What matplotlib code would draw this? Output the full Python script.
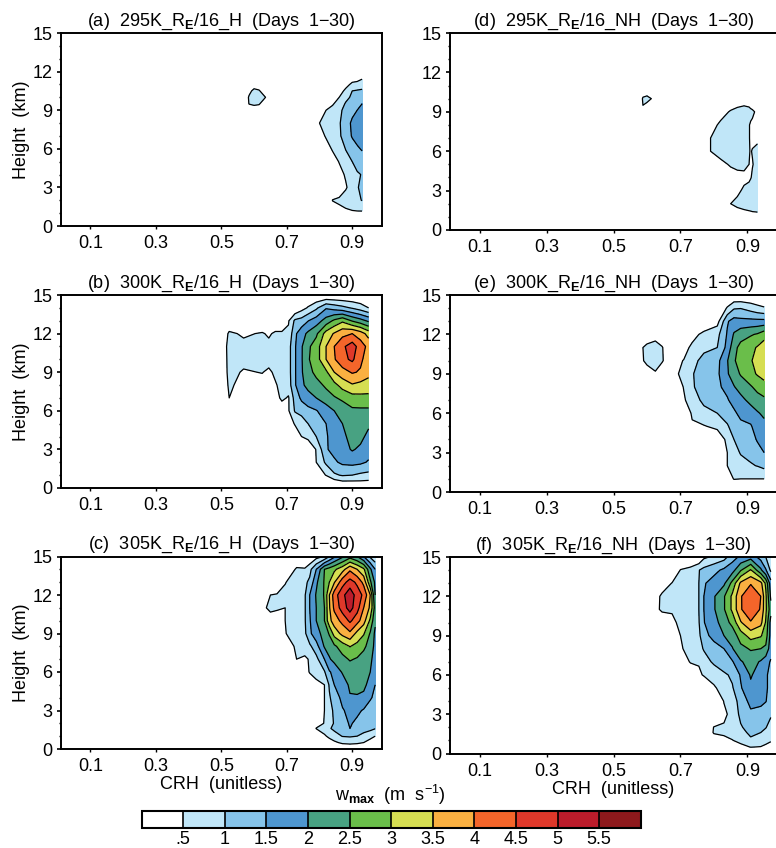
import numpy as np
import matplotlib
matplotlib.use("Agg")
import matplotlib.pyplot as plt
from matplotlib.colors import ListedColormap, BoundaryNorm
from matplotlib.cm import ScalarMappable
from matplotlib.ticker import MultipleLocator

plt.rcParams['font.family'] = ['Liberation Sans', 'DejaVu Sans']
plt.rcParams['mathtext.fontset'] = 'custom'
plt.rcParams['mathtext.rm'] = 'Liberation Sans'
plt.rcParams['mathtext.bf'] = 'Liberation Sans:bold'
plt.rcParams['mathtext.default'] = 'regular'

levels = [0, .5, 1, 1.5, 2, 2.5, 3, 3.5, 4, 4.5, 5, 5.5, 6]
level_labels = ['.5', '1', '1.5', '2', '2.5', '3', '3.5', '4', '4.5', '5', '5.5']
colors = ['#FFFFFF', '#C0E6F8', '#86C4EA', '#4E96CF', '#48A282', '#6ABE4A',
          '#D6DE52', '#FAB041', '#F4652A', '#DF382A', '#BC1C2B', '#8E191C']

# Panel a: 295K H
crh_a = [.56, .585, .60, .615, .635, .66, .78, .80, .82, .84, .86, .88, .90, .915, .93]
hgt_a = [0, 1, 2, 3, 4, 5, 6, 7, 8, 9, 9.5, 10, 10.5, 11, 12, 15]
w_a = [
 [0,0,0,0,0,0,0,0,0,0,0,0,0,0,0],
 [0,0,0,0,0,0,0,0,0,.15,.3,.38,.42,.42,.4],
 [0,0,0,0,0,0,0,0,0,.52,.6,.7,.8,.9,1.02],
 [0,0,0,0,0,0,0,0,0,0,.15,.45,.7,.95,1.15],
 [0,0,0,0,0,0,0,0,0,0,.35,.55,.75,.95,1.02],
 [0,0,0,0,0,0,0,0,.1,.3,.52,.8,1.0,1.15,1.25],
 [0,0,0,0,0,0,0,0,.3,.55,.7,1.02,1.25,1.42,1.55],
 [0,0,0,0,0,0,0,.3,.55,.75,.93,1.2,1.55,1.7,1.85],
 [0,0,0,0,0,0,0,.5,.65,.8,.95,1.25,1.6,1.8,1.9],
 [0,.2,.2,.2,0,0,0,.2,.5,.65,.85,1.2,1.35,1.5,1.65],
 [0,.52,.6,.55,.2,0,0,.1,.3,.45,.7,1.05,1.25,1.4,1.5],
 [0,.55,.75,.7,.5,0,0,0,0,.2,.5,.85,1.1,1.2,1.35],
 [0,.4,.6,.55,.2,0,0,0,0,.1,.3,.6,1.0,1.05,1.05],
 [0,0,.3,.2,0,0,0,0,0,0,.1,.35,.6,.65,.85],
 [0,0,0,0,0,0,0,0,0,0,0,0,0,0,0],
 [0,0,0,0,0,0,0,0,0,0,0,0,0,0,0],
]

# Panel b: 300K H
crh_b = [.50, .524, .568, .625, .645, .665, .685, .705, .725, .745, .765, .79, .82, .845, .87, .90, .925, .95]
hgt_b = [0, .5, 1, 2, 3, 4, 5, 6, 7, 8, 9, 10, 11, 12, 13, 14, 15]
w_b = [
 [0,0,0,0,0,0,0,0,0,0,0,0,0,0,0,0,0,0],
 [0,0,0,0,0,0,0,0,0,0,0,0,.1,.3,.45,.45,.45,.42],
 [0,0,0,0,0,0,0,0,0,0,0,.2,.52,.92,1.05,1.0,.9,.85],
 [0,0,0,0,0,0,0,0,0,0,0,.5,1.1,1.42,1.6,1.65,1.6,1.45],
 [0,0,0,0,0,0,0,0,0,0,.2,.52,1.45,1.65,1.8,2.05,1.9,1.7],
 [0,0,0,0,0,0,0,0,.15,.5,.6,1.0,1.45,1.7,1.9,2.15,2.15,1.85],
 [0,0,0,0,0,0,0,.2,.55,.7,1.0,1.2,1.5,1.7,2.0,2.2,2.2,2.1],
 [0,0,0,0,0,0,.2,.45,1.05,1.2,1.35,1.47,1.75,2.0,2.2,2.4,2.4,2.4],
 [0,.5,0,0,.1,.3,.6,.45,1.2,1.6,1.8,2.0,2.25,2.45,2.6,2.8,2.85,2.85],
 [0,.6,.3,.3,.3,.45,.65,.75,1.45,1.9,2.15,2.3,2.6,2.85,3.2,3.45,3.35,3.3],
 [.1,.65,.45,.52,.4,.6,.7,.8,1.45,1.95,2.3,2.65,2.9,3.5,3.8,4.05,3.95,3.65],
 [.15,.65,.65,.7,.7,.7,.7,.8,1.45,1.95,2.45,2.75,3.5,3.95,4.35,4.6,4.1,3.75],
 [.2,.65,.65,.7,.65,.7,.7,.8,1.45,1.95,2.4,2.75,3.5,4.0,4.4,4.75,4.25,3.85],
 [0,.6,.42,.55,.42,.6,.6,.6,1.4,1.8,2.1,2.4,3.2,3.55,3.85,4.0,3.75,3.3],
 [0,0,0,0,0,0,0,.45,1.1,1.2,1.48,1.75,2.2,2.6,2.9,2.45,2.2,1.9],
 [0,0,0,0,0,0,0,0,0,.3,.55,.9,1.45,1.3,1.15,.95,.75,.5],
 [0,0,0,0,0,0,0,0,0,0,0,0,0,0,0,0,0,0],
]

# Panel c: 305K H
crh_c = [.635, .65, .67, .695, .73, .755, .77, .79, .815, .83, .845, .87, .893, .915, .935, .955, .97]
hgt_c = [0, .5, 1, 1.6, 2, 3, 4, 5, 6, 7, 8, 9, 10, 11, 12, 13, 14, 15]
w_c = [
 [0,0,0,0,0,0,0,0,0,0,0,0,0,0,0,0,0],
 [0,0,0,0,0,0,0,0,0,.2,.4,.6,.65,.6,.5,.35,.3],
 [0,0,0,0,0,0,0,0,.4,.65,.8,1.02,1.05,1.0,.8,.62,.5],
 [0,0,0,0,0,0,0,.52,.8,.95,1.1,1.3,1.5,1.35,1.25,1.15,1.02],
 [0,0,0,0,0,0,0,.3,.52,.75,1.05,1.3,1.55,1.4,1.3,1.2,1.15],
 [0,0,0,0,0,0,0,0,.5,.8,1.1,1.45,1.65,1.6,1.45,1.3,1.2],
 [0,0,0,0,0,0,0,0,.5,.95,1.2,1.65,1.95,1.95,1.9,1.55,1.4],
 [0,0,0,0,0,0,0,.35,.5,1.05,1.5,1.7,2.1,2.15,2.1,1.85,1.5],
 [0,0,0,0,0,.2,.55,.7,.95,1.45,1.65,2.05,2.2,2.2,2.15,2.0,1.6],
 [0,0,0,0,.5,.4,.55,.85,1.5,1.95,2.15,2.35,2.55,2.45,2.3,2.1,1.8],
 [0,0,0,.1,.62,.78,.9,1.3,2.05,2.2,2.4,2.75,3.02,2.85,2.6,2.3,1.85],
 [0,0,0,.48,.7,.9,1.4,1.8,2.2,2.55,3.2,3.65,3.9,3.35,3.05,2.45,1.9],
 [0,.3,.3,.5,.7,.95,1.45,2.0,2.5,3.35,3.75,4.15,4.6,4.2,3.7,2.9,2.1],
 [.48,.6,.55,.5,.7,.95,1.5,2.0,2.5,3.45,4.1,4.75,5.2,4.7,4.0,3.4,2.3],
 [.35,.5,.55,.6,.65,.95,1.5,2.05,2.55,3.5,4.25,4.85,5.35,4.75,4.4,3.5,2.0],
 [0,0,0,.48,.7,.9,1.1,1.9,2.55,3.0,3.45,4.3,4.7,4.4,3.85,2.6,1.9],
 [0,0,0,0,.58,.55,.85,1.5,2.5,2.7,2.9,3.3,3.9,3.5,3.1,2.1,1.5],
 [0,0,0,0,0,0,0,.3,.55,1.0,1.4,1.9,2.3,2.0,1.5,.9,.6],
]

# Panel d: 295K NH
crh_d = [.57, .588, .60, .613, .63, .77, .79, .82, .85, .87, .89, .905, .91, .915, .93]
hgt_d = [0, 1, 2, 3, 4, 5, 6, 7, 8, 9, 10, 11, 15]
w_d = [
 [0,0,0,0,0,0,0,0,0,0,0,0,0,0,0],
 [0,0,0,0,0,0,0,0,.1,.2,.25,.28,.28,.3,.3],
 [0,0,0,0,0,0,0,0,.5,.62,.7,.75,.78,.8,.85],
 [0,0,0,0,0,0,0,0,.2,.4,.58,.65,.68,.7,.78],
 [0,0,0,0,0,0,0,0,.3,.35,.38,.42,.48,.55,.7],
 [0,0,0,0,0,0,.1,.38,.55,.62,.62,.5,.45,.48,.62],
 [0,0,0,0,0,.1,.5,.68,.75,.78,.7,.52,.48,.52,.6],
 [0,0,0,0,0,.2,.5,.68,.78,.8,.7,.52,.45,.42,.42],
 [0,0,0,0,0,0,.3,.6,.72,.78,.68,.52,.45,.42,.35],
 [0,.45,.3,.1,0,0,.1,.3,.55,.65,.75,.7,.62,.58,.4],
 [0,.55,.58,.5,0,0,0,0,.1,.2,.2,.15,.12,.1,.05],
 [0,.1,.2,.1,0,0,0,0,0,0,0,0,0,0,0],
 [0,0,0,0,0,0,0,0,0,0,0,0,0,0,0],
]

# Panel e: 300K NH
crh_e = [.58, .60, .625, .645, .67, .69, .71, .735, .77, .81, .84, .86, .88, .91, .93, .95]
hgt_e = [0, 1, 2, 3, 4, 5, 6, 7, 8, 9, 10, 11, 12, 13, 14, 15]
w_e = [
 [0,0,0,0,0,0,0,0,0,0,0,0,0,0,0,0],
 [0,0,0,0,0,0,0,0,0,0,.3,.52,.5,.5,.5,.5],
 [0,0,0,0,0,0,0,0,0,0,.5,.65,.75,.95,1.02,1.15],
 [0,0,0,0,0,0,0,0,0,0,.5,.75,1.05,1.15,1.3,1.5],
 [0,0,0,0,0,0,0,0,0,.2,.6,1.0,1.2,1.3,1.55,1.7],
 [0,0,0,0,0,0,.1,.45,.47,.6,.95,1.2,1.35,1.45,1.75,1.85],
 [0,0,0,0,0,0,.2,.55,.8,1.0,1.2,1.4,1.65,1.75,1.95,2.1],
 [0,0,0,0,0,0,.45,.7,1.15,1.3,1.45,1.7,1.85,2.15,2.3,2.4],
 [0,0,0,0,0,.3,.52,.95,1.2,1.4,1.65,1.97,2.2,2.45,2.65,2.8],
 [0,.3,.45,.2,0,.47,.62,.97,1.2,1.4,1.95,2.25,2.55,2.85,3.05,3.2],
 [.4,.6,.7,.55,.2,.4,.52,.8,1.2,1.35,1.97,2.45,2.7,2.95,3.2,3.35],
 [.4,.65,.7,.55,0,0,.3,.62,.85,1.0,1.65,2.35,2.65,2.85,3.05,3.25],
 [0,.1,.3,0,0,0,0,.3,.65,.85,1.55,2.05,2.3,2.45,2.55,2.8],
 [0,0,0,0,0,0,0,0,0,.3,1.45,1.7,1.65,1.65,1.65,1.65],
 [0,0,0,0,0,0,0,0,0,0,.55,.95,.98,.8,.65,.55],
 [0,0,0,0,0,0,0,0,0,0,0,0,0,0,0,0],
]

# Panel f: 305K NH
crh_f = [.625, .645, .675, .70, .73, .755, .77, .80, .83, .855, .88, .91, .94, .955, .97]
hgt_f = [0, .5, 1, 1.6, 2, 3, 4, 5, 6, 7, 8, 9, 10, 11, 12, 13, 14, 15]
w_f = [
 [0,0,0,0,0,0,0,0,0,0,0,0,0,0,0],
 [0,0,0,0,0,0,0,0,0,.15,.35,.52,.48,.4,.3],
 [0,0,0,0,0,0,0,.2,.35,.48,.65,.92,.85,.65,.55],
 [0,0,0,0,0,0,0,.55,.6,.7,.85,1.1,1.0,.9,.75],
 [0,0,0,0,0,0,0,.52,.55,.65,.95,1.2,1.1,1.02,.85],
 [0,0,0,0,0,0,0,0,.4,.65,1.12,1.4,1.35,1.25,1.05],
 [0,0,0,0,0,0,0,0,.52,.75,1.2,1.65,1.6,1.52,1.3],
 [0,0,0,0,0,0,0,.45,.65,.95,1.45,1.9,1.7,1.55,1.4],
 [0,0,0,0,0,.4,.55,.65,.9,1.1,1.55,2.05,1.75,1.55,1.4],
 [0,0,0,.1,.55,.55,.75,1.1,1.35,1.45,1.95,2.2,1.95,1.7,1.45],
 [0,0,0,.45,.65,.8,1.05,1.25,1.5,1.97,2.35,2.55,2.5,2.4,1.7],
 [0,0,.1,.5,.7,.9,1.3,1.7,2.0,2.2,2.75,3.2,3.05,2.75,1.8],
 [0,.1,.4,.6,.72,.97,1.48,1.8,2.25,2.65,3.45,3.95,3.65,2.95,1.8],
 [.35,.6,.55,.65,.75,1.0,1.5,1.95,2.45,3.1,3.95,4.4,3.95,3.1,2.2],
 [.3,.6,.6,.65,.75,1.0,1.5,1.95,2.45,3.1,3.95,4.45,4.0,3.1,1.9],
 [0,.2,.52,.6,.7,1.0,1.45,1.7,1.9,2.65,3.6,3.95,3.65,2.9,1.7],
 [0,0,0,.52,.65,.98,1.15,1.35,1.6,1.8,2.45,3.05,2.1,1.55,.9],
 [0,0,0,0,0,0,.4,.6,.8,1.3,1.6,1.8,1.3,1.0,.8],
]

WIDTH, HEIGHT = 776, 848
FS = 13
cmap = ListedColormap(colors)
norm = BoundaryNorm(levels, cmap.N)
fig = plt.figure(figsize=(WIDTH / 100, HEIGHT / 100), dpi=100)


def px_axes(left, top, right, bottom):
    return fig.add_axes([left / WIDTH, 1 - bottom / HEIGHT,
                         (right - left) / WIDTH, (bottom - top) / HEIGHT])


def panel(box, crh, hgt, w, title, ylabel=False, xlabel=False):
    ax = px_axes(*box)
    z = np.array(w, dtype=float)
    ax.contourf(crh, hgt, z, levels=levels, cmap=cmap, norm=norm)
    ax.contour(crh, hgt, z, levels=levels[1:-1], colors='black', linewidths=0.9)
    ax.set_xlim(.01, .99)
    ax.set_ylim(0, 15)
    ax.set_xticks([.1, .3, .5, .7, .9])
    ax.set_xticklabels(['0.1', '0.3', '0.5', '0.7', '0.9'])
    ax.set_yticks([0, 3, 6, 9, 12, 15])
    ax.yaxis.set_minor_locator(MultipleLocator(1))
    ax.tick_params(axis='x', which='major', length=2, width=1, labelsize=FS, pad=4.5)
    ax.tick_params(axis='y', which='major', length=3, width=1.2, labelsize=FS, pad=3)
    ax.tick_params(axis='y', which='minor', length=1.5, width=1)
    for s in ax.spines.values():
        s.set_linewidth(1.4)
    ax.set_title(title, fontsize=FS, pad=5.5)
    if ylabel:
        ax.text(22 / WIDTH, 1 - (box[1] + box[3]) / 2 / HEIGHT, 'Height  (km)',
                transform=fig.transFigure, rotation=90, fontsize=FS,
                ha='center', va='center')
    if xlabel:
        ax.set_xlabel('CRH  (unitless)', fontsize=FS, labelpad=1)
    return ax


R = r'R$_{\mathbf{E}}$'
panel((61, 33, 381.7, 226), crh_a, hgt_a, w_a, f'(a)  295K_{R}/16_H  (Days  1\u221230)', ylabel=True)
panel((61, 295, 381.7, 488), crh_b, hgt_b, w_b, f'(b)  300K_{R}/16_H  (Days  1\u221230)', ylabel=True)
panel((61, 556.5, 381.7, 749), crh_c, hgt_c, w_c, f'(c)  305K_{R}/16_H  (Days  1\u221230)', ylabel=True, xlabel=True)
panel((449.5, 33, 777.5, 230), crh_d, hgt_d, w_d, f'(d)  295K_{R}/16_NH  (Days  1\u221230)')
panel((449.5, 295, 777.5, 492), crh_e, hgt_e, w_e, f'(e)  300K_{R}/16_NH  (Days  1\u221230)')
panel((449.5, 557, 777.5, 753.5), crh_f, hgt_f, w_f, f'(f)  305K_{R}/16_NH  (Days  1\u221230)', xlabel=True)

cax = px_axes(141.7, 810.7, 640.7, 828)
cb = fig.colorbar(ScalarMappable(norm=norm, cmap=cmap), cax=cax, orientation='horizontal',
                  drawedges=True, spacing='uniform')
cb.set_ticks(levels[1:-1])
cb.set_ticklabels(level_labels)
cb.minorticks_off()
cb.ax.tick_params(length=0, labelsize=FS, pad=2)
cb.outline.set_linewidth(1.5)
cb.dividers.set_linewidth(1.2)
cb.dividers.set_color('black')
fig.text(390 / WIDTH, 1 - 795 / HEIGHT, r'w$_{\mathbf{max}}$  (m  s$^{-1}$)',
         fontsize=FS, ha='center', va='center')

fig.savefig('out.png', dpi=100)
